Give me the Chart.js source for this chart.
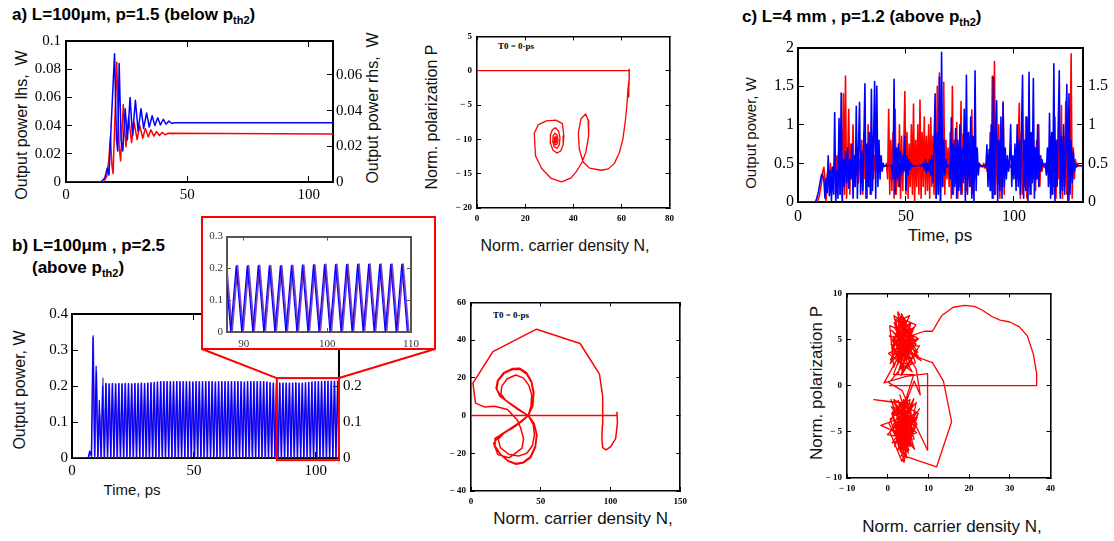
<!DOCTYPE html>
<html>
<head>
<meta charset="utf-8">
<script src="https://cdn.jsdelivr.net/npm/chart.js@4.4.1/dist/chart.umd.min.js"></script>
<style>
  body { margin: 0; width: 1114px; height: 541px; position: relative; overflow: hidden; background: #fff;
         font-family: "Liberation Sans", Arial, sans-serif; color: #000; }
  canvas { position: absolute; }
  .ttl { position: absolute; font-weight: bold; font-size: 17px; white-space: nowrap; }
  .ttl sub { font-size: 11px; }
  .ax { position: absolute; white-space: nowrap; color: #111; transform: translate(-50%, -50%); }
  .vt { transform: translate(-50%, -50%) rotate(-90deg); }
  .t0 { position: absolute; font: bold 9px "Liberation Serif", serif; white-space: nowrap; transform: translate(-50%, -50%); }
  #insetFrame { position: absolute; box-sizing: border-box; border: 2px solid #f00; background: #fff; z-index: 2; }
</style>
</head>
<body>

<div class="ttl" style="left:12px;top:5px">a) L=100μm, p=1.5 (below p<sub>th2</sub>)</div>
<div class="ttl" style="left:12px;top:236px">b) L=100μm , p=2.5</div>
<div class="ttl" style="left:32px;top:258px">(above p<sub>th2</sub>)</div>
<div class="ttl" style="left:742px;top:7px">c) L=4 mm , p=1.2 (above p<sub>th2</sub>)</div>

<div class="ax vt" style="left:22px;top:125px;font-size:16px">Output power lhs,&nbsp; W</div>
<div class="ax vt" style="left:373px;top:108px;font-size:16px">Output power rhs,&nbsp; W</div>
<div class="ax vt" style="left:20px;top:390px;font-size:16px">Output power, W</div>
<div class="ax" style="left:132px;top:489px;font-size:15px">Time, ps</div>
<div class="ax vt" style="left:750px;top:133px;font-size:15px">Output power, W</div>
<div class="ax" style="left:940px;top:236px;font-size:17px">Time, ps</div>
<div class="ax vt" style="left:432px;top:117px;font-size:16px">Norm. polarization P</div>
<div class="ax" style="left:565px;top:246px;font-size:16px">Norm. carrier density N,</div>
<div class="ax" style="left:583px;top:519px;font-size:17px">Norm. carrier density N,</div>
<div class="ax vt" style="left:817px;top:383px;font-size:17px">Norm. polarization P</div>
<div class="ax" style="left:952px;top:527px;font-size:17px">Norm. carrier density N,</div>
<div class="t0" style="left:516px;top:46px">T0 = 0·ps</div>
<div class="t0" style="left:511px;top:315px">T0 = 0·ps</div>

<canvas id="chartA"></canvas>
<canvas id="chartB" style="z-index:1"></canvas>
<div id="insetFrame"></div>
<canvas id="chartInset" style="z-index:3"></canvas>
<canvas id="chartC"></canvas>
<canvas id="phaseA"></canvas>
<canvas id="phaseB"></canvas>
<canvas id="phaseC"></canvas>

<script>
// ---- panel a: output power vs time, L=100um, p=1.5 (t ps, W) ----
const aTimeTicks = [0, 50, 100];
const aLeftTicks = [0, 0.02, 0.04, 0.06, 0.08, 0.1];
const aRightTicks = [0, 0.02, 0.04, 0.06];
const aBlue = [[0,0],[14.5,0],[16,0.003],[17,0.01],[17.7,0.005],[18.6,0.04],[20,0.091],[20.8,0.03],[21.3,0.022],
  [21.9,0.084],[22.7,0.03],[23.4,0.022],[24.4,0.052],[25.3,0.03],[26.4,0.06],[27.4,0.033],[28.6,0.058],[29.7,0.036],
  [30.9,0.052],[32,0.038],[33.2,0.049],[34.3,0.039],[35.5,0.047],[36.6,0.04],[37.8,0.0455],[38.9,0.0405],[40.1,0.0445],
  [41.2,0.041],[42.4,0.0432],[43.6,0.0415],[44.6,0.042],[110,0.042]];
const aRed = [[0,0],[15.5,0],[16.8,0.004],[17.6,0.015],[18.3,0.032],[18.9,0.012],[19.4,0.006],[20.9,0.085],[21.9,0.025],
  [22.5,0.015],[23.6,0.055],[24.7,0.025],[25.8,0.046],[27,0.028],[28.1,0.042],[29.3,0.03],[30.4,0.04],[31.6,0.031],
  [32.7,0.038],[33.9,0.032],[35,0.037],[36.2,0.0325],[37.3,0.0358],[38.5,0.033],[39.6,0.0352],[40.8,0.0335],
  [42,0.0345],[110,0.034]];

// ---- panel b: L=100um, p=2.5, sampled every bStep ps ----
const bStep = 0.66;
const bRedShift = 0.15;
const bTimeTicks = [0, 50, 100];
const bLeftTicks = [0, 0.1, 0.2, 0.3, 0.4];
const bRightTicks = [0, 0.1, 0.2];
const insetTimeTicks = [90, 100, 110];
const insetPowerTicks = [0, 0.1, 0.2, 0.3];
const bZoomTime = [84, 109.5];
const bZoomPower = [-0.006, 0.222];
const bBlue = [0,0,0,0,0,0,0,0,0,0,0,
  0.02,0.005,0.335,0.005,0.255,0,0.16,0,0.2,0,
  0.207,0.002,0.206,0,0.207,0.001,0.206,0,0.207,0.002,0.206,0,0.207,0.001,0.207,0,0.206,0.002,0.207,0,
  0.207,0.001,0.208,0,0.207,0.002,0.208,0,0.209,0.001,0.21,0,0.211,0.002,0.212,0,0.212,0.001,0.212,0,
  0.212,0.002,0.212,0,0.212,0.001,0.212,0,0.212,0.002,0.212,0,0.212,0.001,0.211,0,0.212,0.002,0.212,0,
  0.212,0.001,0.212,0,0.212,0.002,0.212,0,0.211,0.001,0.212,0,0.212,0.002,0.212,0,0.212,0.001,0.212,0,
  0.212,0.002,0.212,0,0.212,0.001,0.211,0,0.212,0.002,0.212,0,0.212,0.001,0.212,0,0.212,0.002,0.212,0,
  0.211,0.001,0.209,0,0.208,0.002,0.208,0,0.208,0.001,0.208,0,0.208,0.002,0.208,0,0.208,0.001,0.209,0,
  0.208,0.002,0.208,0,0.209,0.001,0.21,0,0.211,0.002,0.212,0,0.212,0.001,0.212,0,0.213,0.002,0.213,0,
  0.213,0.001,0.213,0,0.213,0.002];
const bRed = [0,0,0,0,0,0,0,0,0,0,0,
  0.015,0.005,0.34,0,0.24,0,0.12,0,0.222,0,
  0.207,0.001,0.206,0,0.207,0.002,0.206,0,0.207,0.001,0.206,0,0.207,0.002,0.207,0,0.206,0.001,0.207,0,
  0.207,0.002,0.208,0,0.207,0.001,0.208,0,0.209,0.002,0.21,0,0.211,0.001,0.212,0,0.212,0.002,0.212,0,
  0.212,0.001,0.212,0,0.212,0.002,0.212,0,0.212,0.001,0.212,0,0.212,0.002,0.211,0,0.212,0.001,0.212,0,
  0.212,0.002,0.212,0,0.212,0.001,0.212,0,0.211,0.002,0.212,0,0.212,0.001,0.212,0,0.212,0.002,0.212,0,
  0.212,0.001,0.212,0,0.212,0.002,0.211,0,0.212,0.001,0.212,0,0.212,0.002,0.212,0,0.212,0.001,0.212,0,
  0.211,0.002,0.209,0,0.208,0.001,0.208,0,0.208,0.002,0.208,0,0.208,0.001,0.208,0,0.208,0.002,0.209,0,
  0.208,0.001,0.208,0,0.209,0.002,0.21,0,0.211,0.001,0.212,0,0.212,0.002,0.212,0,0.213,0.001,0.213,0,
  0.213,0.002,0.213,0,0.213,0.001];

// ---- panel c: L=4mm, p=1.2, sampled every cStep ps ----
const cStep = 0.5;
const cTimeTicks = [0, 50, 100];
const cLeftTicks = [0, 0.5, 1, 1.5, 2];
const cRightTicks = [0, 0.5, 1, 1.5];
const cBlue = [
  0,0,0,0,0,0,0,0,0,0,0,0,0,0,0,0,0,0.03,0.08,0.14,
  0.22,0.3,0.36,0.34,0.28,0.05,0.3,0.12,0.6,0.08,0.4,0.02,0.45,0.1,1.16,0,0.4,0.05,1.08,0.1,
  1.41,0,0.55,0.2,0.65,0.25,0.7,0.18,0.55,0.3,0.75,0.05,0.6,0.2,1.24,0.05,0.7,1.29,0.1,0.65,
  0.15,0.8,1.53,0.05,0.75,0.2,0.9,0.1,1.46,0.15,0.8,1.56,0.05,1.5,0.2,0.8,0.3,0.6,0.4,0.5,
  0.46,0.47,0.47,0.47,0.47,0.47,0.48,0.45,0.3,1.59,0.1,0.7,0.3,0.75,0.2,0.65,0.35,0.6,0.4,0.85,
  0.15,0.6,0.35,0.55,0.42,0.5,0.46,0.47,0.47,0.47,0.47,0.47,0.47,0.48,0.46,0.47,0.5,0.42,0.55,0.38,
  0.5,0.4,0.55,0.35,0.6,0.25,0.7,1.4,0.05,0.9,0.1,1.62,0,1.94,0.2,0.8,0.35,0.55,0.45,0.48,
  0.47,0.3,1.09,0.1,0.75,0.2,0.95,0.05,0.8,0.15,1.0,0.1,0.7,0.25,1.2,0,1.64,0.1,0.9,0.2,
  1.1,0.05,0.85,0,1.7,0.15,0.7,0.35,0.5,0.46,0.47,0.47,0.47,0.47,0.45,0.74,0.2,0.68,0.15,1.0,
  0.05,1.62,0.1,0.9,1.31,0,0.8,0.15,1.1,0.05,1.28,0.2,0.7,0.3,0.6,0.4,0.55,1.0,0.2,0.6,
  0.3,0.75,0.15,1.0,0.2,0.8,0.1,0.9,1.64,0.05,0.8,0.15,1.1,0,1.68,0.1,0.9,0.25,1.6,0.05,
  0.7,0.3,1.0,0.2,0.6,0.4,0.55,0.47,0.47,0.5,0.35,0.7,0.2,1.15,0.05,0.9,0.1,1.79,0,0.8,
  0.2,0.95,1.7,0.05,0.85,0.15,1.0,0.1,0.7,1.52,0,1.4,0.1,0.8,0.25,0.65,0.4,0.5,0.46,0.47,
  0.47,0.47,0.47,0.47,0.47];
const cRed = [
  0,0,0,0,0,0,0,0,0,0,0,0,0,0,0,0,0,0,0.01,0.04,
  0.1,0.18,0.28,0.4,0.45,0.3,0,0.35,0.42,0.25,0.5,0.3,0.45,0.35,0.55,0.3,0.6,0.2,0.85,0.1,
  1.0,0.05,1.4,0.1,1.63,0.05,0.55,1.2,0.1,0.75,0.3,1.0,0.2,0.6,0.35,0.7,0.25,0.55,0.4,0.8,
  0.1,0.9,0.3,0.7,0.05,1.0,0.2,0.75,0.1,0.85,0.3,0.6,0.4,0.55,0.45,0.5,0.47,0.47,0.47,0.47,
  0.47,0.47,0.5,0.3,1.2,0.1,0.8,0.15,0.9,0.05,1.2,0.1,0.7,0.2,1.0,0.05,0.85,0.15,0.7,1.43,
  0.1,0.9,0.05,0.75,0.2,1.0,0.1,1.27,0,0.8,0.2,1.0,0.1,1.32,0.05,0.9,0.2,1.1,0.1,0.85,
  0.15,1.0,0.05,1.09,0.2,0.85,0.1,0.95,0.05,1.5,0.1,1.67,0,1.0,0.2,1.55,0.1,0.8,0.3,0.7,
  0.2,0.9,0.05,1.5,0.1,0.8,0.25,1.03,0.05,0.7,0.2,1.3,0.1,0.88,0.3,0.6,0.15,0.8,0.3,0.65,
  0.2,1.19,0.1,0.7,0.3,0.55,0.4,0.5,0.46,0.48,0.47,0.45,0.5,0.44,0.5,0.4,0.6,0.3,0.9,0.15,
  1.63,0.05,1.82,0.1,0.8,0.25,1.0,0.05,0.75,0.2,1.3,0.1,0.6,0.35,0.55,0.42,0.5,0.45,0.47,0.47,
  0.5,0.4,0.6,0.3,0.8,1.28,0.05,0.9,0.1,0.7,0.2,1.1,0.05,0.8,0.2,0.6,0.1,0.85,0.3,0.7,
  0.15,0.8,0.3,1.0,0.2,0.6,0.4,0.5,0.45,0.48,0.47,0.4,0.6,0.25,0.85,0.1,0.9,0.2,1.1,0.05,
  0.8,0.3,1.0,0.1,1.25,0.05,0.85,0.2,1.3,0.1,0.9,0,0.6,1.92,0.05,0.7,0.3,0.55,0.45,0.5,
  0.47,0.47,0.47,0.47,0.47];

// ---- phase portraits [N, P] ----
const phaseATicksN = [0, 20, 40, 60, 80];
const phaseATicksP = [-20, -15, -10, -5, 0, 5];
const phaseAPath = [[0,0],[63,0],[63.3,0.2],[63.2,-2],[62.8,-3.8],[63.1,-1.5],[62.7,-2.8],[62.3,-5],[61.6,-7.5],
  [60.6,-10],[59.1,-12],[57.1,-13.5],[54.6,-14.3],[51.6,-14.5],[46.8,-14.2],[44.1,-13.3],[42.5,-11.4],[42.1,-9.1],
  [43.2,-7],[45.2,-6.3],[46.2,-7.2],[46.4,-9.5],[45.2,-11.9],[43.7,-13.3],[41.5,-14.6],[39.1,-15.6],[35.2,-16.2],
  [30.8,-15.7],[26.8,-14.2],[24.3,-12.4],[23.8,-9.1],[25.4,-7.9],[28.8,-7.3],[32.8,-7.2],[35.5,-7.7],[36.1,-9.5],
  [35.8,-10.8],[34.8,-11.7],[33.2,-12],[31.6,-11.6],[30.6,-10.6],[30.5,-9.4],[31.3,-8.6],[32.6,-8.3],[33.9,-8.8],
  [34.5,-9.8],[34.2,-10.8],[33.2,-11.3],[32.1,-11.1],[31.5,-10.4],[31.6,-9.5],[32.4,-9.1],[33.3,-9.4],[33.7,-10.1],
  [33.3,-10.7],[32.5,-10.8],[32,-10.3],[32.2,-9.7],[32.8,-9.6],[33.1,-10.1],[32.8,-10.5],[32.4,-10.3],[32.5,-9.9],[32.8,-10]];

const phaseBTicksN = [0, 50, 100, 150];
const phaseBTicksP = [-40, -20, 0, 20, 40, 60];
const phaseBPath = [[0,0],[104,0],[104.6,1.8],[105,-3.6],[103.7,-12.2],[100.2,-16.5],[96.8,-18.2],[94.4,-17],
  [93.8,-12.2],[94.2,-5],[94.4,0],[94.4,10],[92.1,22],[78.2,38.2],[47,45.8],[15.7,33.9],[1.4,17.2],[3.2,6.6],
  [10,4.5],[16.9,4.9],[26.2,3.2],[33.1,-2.3],[35.4,-6.2],[37.7,-12.2],[36.6,-17.3],[27.3,-22.4],[19.2,-20.7],
  [16.2,-14.7],[20.5,-10.5],[27,-7.5],[34,-4],[41,0],
  [43,5],[43.5,11],[41.5,16],[37.5,20],[32,21.5],[26,19.5],[22,15.5],[21.5,11.5],[25,8],[31,5],[37,2],[41,0],
  [44.5,-4.5],[45.5,-10],[44,-16],[40,-20],[34,-21.5],[27,-20.5],[21,-17],[19.5,-12.5],[23.5,-9.5],[30.5,-6],[37,-2.5],[41,0],
  [44.3,5],[45,11.5],[43.5,17.5],[40,22],[35,24.5],[30,24.5],[24,22.5],[19.5,18.5],[18.5,14],[21.5,10],[27.5,6.5],
  [34,3],[41,0],[45,-4],[47,-10],[46,-16.5],[42.5,-22],[37.5,-24.8],[32,-25.5],[26.5,-24],[21,-20.5],[17.2,-16],
  [17.5,-12],[23,-9.5],[31,-6],[37.5,-2.5],[41.2,0],
  [44,5],[44.8,12],[43.2,18],[39.5,22.8],[34.5,25],[29.5,24.8],[23.5,22.8],[19,18.5],[18,14.5],[20.5,10.5],[27,7],
  [34,3.2],[41,0],[45.2,-4.2],[47.3,-10.3],[46.2,-16.8],[42.8,-22.3],[37.8,-25],[32.3,-25.8],[26.8,-24.3],
  [21.3,-20.8],[16.8,-16.3],[17.2,-12.2],[22.8,-9.6],[30.8,-6.2],[37.3,-2.6],[41.1,0],
  [44.2,5.2],[44.9,12],[43.4,17.8],[39.7,22.6],[34.7,24.8],[29.7,24.6],[23.7,22.6],[19.2,18.3],[18.2,14.2],
  [20.8,10.2],[27.2,6.8],[34.2,3.1],[41,0],[45.1,-4.1],[47.1,-10.1],[46.1,-16.6],[42.6,-22.1],[37.6,-24.9],
  [32.1,-25.6],[26.6,-24.1],[21.1,-20.6],[17,-16.1],[17.4,-12.1],[22.9,-9.5],[30.9,-6.1],[37.4,-2.5],[41,0],
  [44.1,5.1],[44.7,11.8],[43.3,17.6],[39.6,22.4],[34.6,24.6],[29.6,24.4],[23.6,22.4],[19.3,18.4],[18.3,14.3],
  [20.9,10.4],[27.1,6.9],[34.1,3.1],[41,0],[45,-4.2],[47.2,-10.2],[46.2,-16.7],[42.7,-22.2],[37.7,-24.9],
  [32.2,-25.7],[26.7,-24.2],[21.2,-20.7],[16.9,-16.2],[17.3,-12.2],[22.8,-9.5],[30.8,-6.1],[37.3,-2.5],[41,0],
  [44.3,5.3],[45.1,12.1],[43.5,18],[39.8,22.8],[34.8,25.1],[29.8,24.9],[23.8,22.8],[19.1,18.6],[18.1,14.4],
  [20.7,10.3],[27.3,6.7],[34.3,3.2],[41.1,0],[45.2,-4],[47.2,-10],[46,-16.4],[42.5,-21.9],[37.5,-24.7],
  [32,-25.4],[26.5,-23.9],[21,-20.4],[17.1,-16],[17.5,-12],[23,-9.4],[31,-6],[37.5,-2.4],[41,0]];

const phaseCTicksN = [-10, 0, 10, 20, 30, 40];
const phaseCTicksP = [-10, -5, 0, 5, 10];
const phaseCPath = [[0.3,0],[36.5,0],[36.6,1.3],[35.8,3.4],[34.3,5.4],[32.3,6.4],[30,6.9],[27.6,7.1],[25.6,7.5],
  [23.2,8.2],[21.3,8.6],[18.9,8.7],[16.1,8.5],[13.3,7.6],[12.2,6.8],[11,5.9],[9,5.9],[5.8,5.4],
  [3,7.2],[1.2,4],[4.5,6.5],[2.5,8],[3.2,3],[6,5.5],[0.5,6.5],[1.5,2],[5.5,6.8],[2.2,5.5],[7,4.5],[3,2.5],
  [4.2,7.3],[1,3.5],[6.5,3],[2.8,6],[5,2],[0.8,4.5],[7.8,4.3],[3.6,1.5],[2,7.2],[6.2,6],[4,3.5],[1.3,5.2],
  [8.2,2.7],[4.8,5],[2.5,1.2],[5.7,6.8],[3.3,4.2],[0.2,3.5],[6,1.5],[2,4.8],[4.5,2.8],[7.2,5.2],[1.8,6.2],
  [5.2,3.8],[3,1.8],[6.8,2.5],[4,6],[2.2,4.6],[5.4,7.6],[1.6,6.8],[4.8,3.2],[3.4,7.8],[6.6,4.8],[0.4,5.4],
  [5.8,2.4],[2.8,7.4],[6.9,6.6],[1.9,3.1],[4.3,5.7],[3.1,6.5],[7.5,2.9],[0.9,6],[5.1,4.3],[2.3,2.2],[6.3,5.3],
  [3.7,3.9],[1.5,7.6],[5.9,6.1],[3.3,1.1],[7.1,3.7],[2.7,4.9],[4.9,6.6],[0.7,2.8],[6.1,4.1],[3.9,7.1],[1.2,4.8],
  [5.3,2.9],[2.1,6.1],[4.4,4.8],[7.6,5.1],[3.5,3.3],[5.6,5.5],
  [-0.9,0.3],[4.5,1],[9.8,1.3],[9.8,-7],[6,-3.5],[3,-6],[5.5,-1.5],[1,-3],
  [4.2,-7.6],[2,-2],[6.8,-4.5],[3.5,-8.2],[0.5,-5],[5,-2.5],[2.5,-7],[7.5,-3],[1.5,-1.5],[4.5,-5.5],[-1.7,-4.3],
  [3.2,-3.5],[6,-6.5],[2,-4.5],[7,-1.8],[4,-8.3],[1.2,-2.8],[5.5,-4.8],[3,-1],[6.5,-5.8],[-0.1,-5.3],[4.8,-3.2],
  [2.2,-6],[7.8,-2.5],[3.8,-5],[0.8,-1.5],[5.2,-7],[2.8,-3.8],[6.2,-2],[-3.4,-1.5],[1.5,-1.8],[4.5,-4],[3,-5.8],
  [5.8,-3],[2,-3.2],[4,-1.5],[3.9,-3.1],[1.7,-6.6],[5.9,-2.2],[2.4,-4.7],[6.6,-6.9],[3.1,-2],[0.3,-4.1],
  [4.7,-7.8],[2.9,-3.4],[7.1,-5.1],[1.1,-6.2],[5.2,-3.6],[3.6,-6.8],[6.4,-1.4],[2.2,-5.3],[4.1,-2.7],[0.9,-2.3],
  [5.7,-5.5],[3.3,-7.6],[7.3,-3.4],[1.8,-3.9],[4.6,-6.1],[2.6,-1.6],[6.1,-4.7],[3,-4.4],[5.1,-7.3],[1.4,-5],
  [4.3,-3.9],[6.8,-2.9],[2.5,-6.4],[3.8,-1.9],[5.5,-6.6],[2,-4],[4.9,-5],[3.4,-3],
  [6.5,0.5],[8,-1],[7,1.8],[4.5,3.8],[6,3.3],[11,2.5],[13.7,0.5],[15.7,-3.9],[12,-8.8],
  [4,-7.6],[2.5,-4],[5,-2],[3.5,-0.5],[0.3,0.3],[3.8,2.2],[1.6,3.8],[5.6,4.6],[2.4,2.6],[6.6,6.4],[3.4,5.2],
  [0.6,2.4],[4.6,4.4],[7.4,3.6],[2.6,6.8],[5.2,5.6],[1.4,1.2],[6.4,1.2],[3.6,-2.6],[1.8,-5.4],[5.4,-6],[2.6,-2.4],
  [6.2,-3.6],[3.2,-7.2],[0.6,-3.6],[4.4,-2.2],[7.2,-4.2],[4.2,-6.2],[1.4,-4.2],[5,-1.2],[2.8,-5],[6,-4],[3.4,-2.2]];

// ---- layout (page pixels of each plot area and the room around it) ----
const SERIF = "'Liberation Serif', 'Times New Roman', serif";
const INSET_FRAME = { left: 201, top: 216, width: 235, height: 134 };

const boxA = { L: 66, T: 33, R: 333, B: 182, wl: 40, wr: 36, ht: 12, hb: 24 };
const boxB = { L: 72, T: 307, R: 339, B: 458, wl: 40, wr: 101, ht: 12, hb: 24 };
const boxInset = { L: 227, T: 230, R: 419, B: 332, wl: 26, wr: 10, ht: 8, hb: 18 };
const boxC = { L: 798, T: 39, R: 1083, B: 202, wl: 32, wr: 31, ht: 12, hb: 26 };
const boxPA = { L: 477, T: 30, R: 676, B: 208, wl: 30, wr: 7, ht: 8, hb: 16 };
const boxPB = { L: 471, T: 296, R: 687, B: 491, wl: 30, wr: 9, ht: 8, hb: 18 };
const boxPC = { L: 847, T: 287, R: 1057, B: 478, wl: 32, wr: 7, ht: 8, hb: 18 };

const $ = (id) => document.getElementById(id);
const series = (vals, step, shift) => vals.map((v, i) => ({ x: shift + i * step, y: v }));
const pairs = (arr) => arr.map(([x, y]) => ({ x, y }));
const plain = (v) => String(+v.toFixed(3));
const signed = (v) => (v < 0 ? "\u2212 " + (-v) : String(v));

function place(id, box) {
  const c = $(id);
  const w = box.R - box.L + box.wl + box.wr;
  const h = box.B - box.T + box.ht + box.hb;
  c.width = w;
  c.height = h;
  c.style.left = (box.L - box.wl) + "px";
  c.style.top = (box.T - box.ht) + "px";
  c.style.width = w + "px";
  c.style.height = h + "px";
  return c;
}

function axis(pos, min, max, ticks, size, o = {}) {
  const vertical = pos === "left" || pos === "right";
  return {
    type: "linear", position: pos, min, max, display: true,
    afterBuildTicks: (s) => { s.ticks = ticks.map((v) => ({ value: v })); },
    afterFit: (s) => { if (vertical) s.width = size; else s.height = size; },
    ticks: {
      display: !!o.font, font: o.font, color: o.color || "#000",
      padding: o.pad ?? 8, maxRotation: 0, autoSkip: false,
      callback: o.fmt || plain,
    },
    grid: { drawOnChartArea: false, drawTicks: true, tickLength: -(o.tick ?? 6), color: o.line || "#000", lineWidth: 1 },
    border: { display: true, color: o.line || "#000", width: o.bw ?? 2 },
  };
}

function draw(id, box, datasets, scales, plugins = []) {
  return new Chart(place(id, box), {
    type: "line",
    data: { datasets },
    options: {
      responsive: false, animation: false, devicePixelRatio: 1, events: [],
      layout: { padding: 0 },
      plugins: { legend: { display: false }, tooltip: { enabled: false } },
      elements: { point: { radius: 0 }, line: { tension: 0, borderJoinStyle: "round" } },
      scales,
    },
    plugins,
  });
}

const line = (data, color, width) => ({ data, borderColor: color, borderWidth: width, fill: false, pointRadius: 0 });

const mainFont = { family: SERIF, size: 15 };
const phaseFont = { family: SERIF, size: 9, weight: "bold" };

// panel a
draw("chartA", boxA,
  [line(pairs(aBlue), "#0000ff", 1.5), line(pairs(aRed), "#ff0000", 1.5)],
  {
    x: axis("bottom", 0, 110, aTimeTicks, boxA.hb, { font: mainFont, pad: 10 }),
    xTop: axis("top", 0, 110, aTimeTicks, boxA.ht),
    y: axis("left", 0, 0.1, aLeftTicks, boxA.wl, { font: mainFont, pad: 11 }),
    yRight: axis("right", 0, 0.079, aRightTicks, boxA.wr, { font: mainFont, pad: 9 }),
  });

// panel b with the zoom box and the guide lines to the inset
const zoomMarker = {
  id: "zoomMarker",
  afterDraw(chart) {
    const { ctx, scales: { x, y } } = chart;
    const x0 = x.getPixelForValue(bZoomTime[0]);
    const x1 = x.getPixelForValue(bZoomTime[1]);
    const y0 = y.getPixelForValue(bZoomPower[1]);
    const y1 = y.getPixelForValue(bZoomPower[0]);
    const offX = boxB.L - boxB.wl, offY = boxB.T - boxB.ht;
    const fl = INSET_FRAME.left - offX + 1;
    const fr = INSET_FRAME.left + INSET_FRAME.width - offX - 1;
    const fb = INSET_FRAME.top + INSET_FRAME.height - offY - 1;
    ctx.save();
    ctx.strokeStyle = "#ff0000";
    ctx.lineWidth = 2;
    ctx.strokeRect(x0, y0, x1 - x0, y1 - y0);
    ctx.beginPath();
    ctx.moveTo(fl, fb); ctx.lineTo(x0, y0);
    ctx.moveTo(fr, fb); ctx.lineTo(x1, y0);
    ctx.stroke();
    ctx.restore();
  },
};

const bBlueData = series(bBlue, bStep, 0);
const bRedData = series(bRed, bStep, bRedShift);

draw("chartB", boxB,
  [line(bBlueData, "#0000ff", 1.2), line(bRedData, "#8040c0", 1.4)],
  {
    x: axis("bottom", 0, 109.5, bTimeTicks, boxB.hb, { font: mainFont, pad: 10 }),
    xTop: axis("top", 0, 109.5, bTimeTicks, boxB.ht),
    y: axis("left", 0, 0.4, bLeftTicks, boxB.wl, { font: mainFont, pad: 10 }),
    yRight: axis("right", 0, 0.4, bRightTicks, boxB.wr, { font: mainFont, pad: 10 }),
  }, [zoomMarker]);

const frame = $("insetFrame");
frame.style.left = INSET_FRAME.left + "px";
frame.style.top = INSET_FRAME.top + "px";
frame.style.width = INSET_FRAME.width + "px";
frame.style.height = INSET_FRAME.height + "px";

const insetFont = { family: SERIF, size: 11 };
const insetOpts = { line: "#555", tick: 4, bw: 2 };
draw("chartInset", boxInset,
  [line(bBlueData, "#0000ff", 1.2), line(bRedData, "#8040c0", 2)],
  {
    x: axis("bottom", 88, 110, insetTimeTicks, boxInset.hb, { ...insetOpts, font: insetFont, color: "#333", pad: 10 }),
    xTop: axis("top", 88, 110, insetTimeTicks, boxInset.ht, insetOpts),
    y: axis("left", 0, 0.3, insetPowerTicks, boxInset.wl, { ...insetOpts, font: insetFont, color: "#333", pad: 8 }),
    yRight: axis("right", 0, 0.3, insetPowerTicks, boxInset.wr, insetOpts),
  });

// panel c
const cFont = { family: SERIF, size: 16 };
draw("chartC", boxC,
  [line(series(cBlue, cStep, 0), "#0000ff", 1.6), line(series(cRed, cStep, 0), "#ff0000", 1.6)],
  {
    x: axis("bottom", 0, 132, cTimeTicks, boxC.hb, { font: cFont, pad: 11 }),
    xTop: axis("top", 0, 132, cTimeTicks, boxC.ht),
    y: axis("left", 0, 2, cLeftTicks, boxC.wl, { font: cFont, pad: 10 }),
    yRight: axis("right", 0, 2, cRightTicks, boxC.wr, { font: cFont, pad: 11 }),
  });

// phase portraits
function phase(id, box, path, nMin, nMax, nTicks, pMin, pMax, pTicks, width) {
  const o = { tick: 4, bw: 1.6 };
  draw(id, box, [line(pairs(path), "#ff0000", width)], {
    x: axis("bottom", nMin, nMax, nTicks, box.hb, { ...o, font: phaseFont, pad: 9, fmt: signed }),
    xTop: axis("top", nMin, nMax, nTicks, box.ht, o),
    y: axis("left", pMin, pMax, pTicks, box.wl, { ...o, font: phaseFont, pad: 9, fmt: signed }),
    yRight: axis("right", pMin, pMax, pTicks, box.wr, o),
  });
}

phase("phaseA", boxPA, phaseAPath, 0, 80, phaseATicksN, -20, 5, phaseATicksP, 1.3);
phase("phaseB", boxPB, phaseBPath, 0, 150, phaseBTicksN, -40, 60, phaseBTicksP, 1.5);
phase("phaseC", boxPC, phaseCPath, -10, 40, phaseCTicksN, -10, 10, phaseCTicksP, 1.3);
</script>
</body>
</html>
